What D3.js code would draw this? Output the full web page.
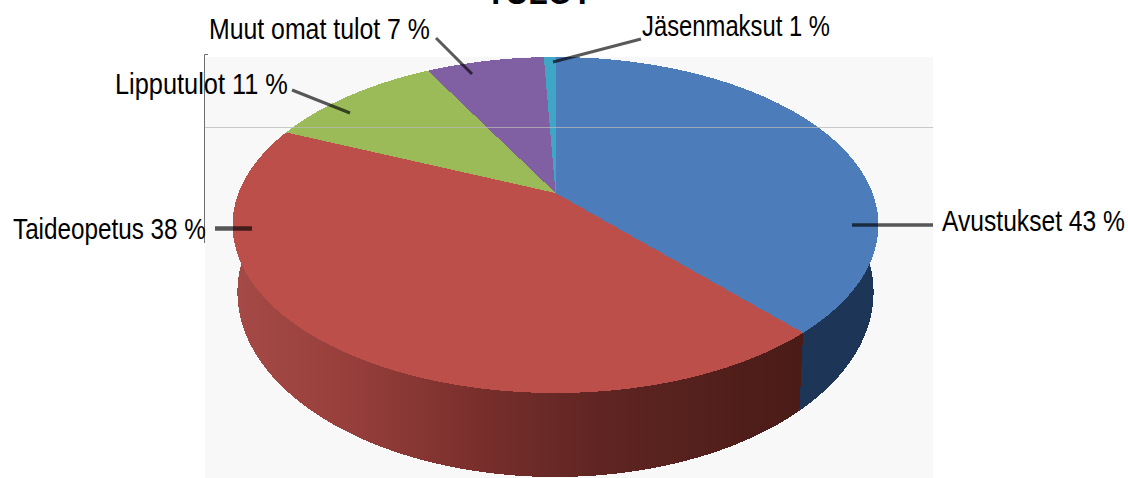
<!DOCTYPE html>
<html>
<head>
<meta charset="utf-8">
<script src="https://cdn.jsdelivr.net/npm/d3@7"></script>
<style>
  html, body { margin: 0; padding: 0; background: #fff; }
  svg { display: block; }
  text { font-family: "Liberation Sans", sans-serif; fill: #000; }
</style>
</head>
<body>
<div id="chart"></div>
<script>
const titleText = 'TULOT';
const labels = ['Avustukset 43 %', 'Taideopetus 38 %', 'Lipputulot 11 %', 'Muut omat tulot 7 %', 'Jäsenmaksut 1 %'];
// slice sizes as drawn in the picture, these differ from the printed labels
const sliceValues = [38.3, 43.3, 10.6, 7.1, 0.7];
const topColors = ['#4c7dba', '#bd4f4a', '#9bbb59', '#8060a2', '#3fa6c6'];

const width = 1128, height = 478;
const plot = { left: 205, right: 933, top: 57, bottom: 478, gridY: 127 };

// label anchor and squeezed width, same order as labels
const labelPos = [[942, 231, 183], [13, 239, 193], [115, 94, 173], [209, 39, 221], [642, 36, 188]];
const leaders = [
  [[852, 225], [933, 225], 3.5],
  [[215, 228.5], [252, 228.5], 4.5],
  [[292, 90], [350, 113], 3],
  [[436, 38], [472, 74], 3],
  [[553, 62], [641, 39], 3]
];

const svg = d3.select('#chart').append('svg')
  .attr('width', width).attr('height', height);

const defs = svg.append('defs');
const redWall = defs.append('linearGradient').attr('id', 'wall-red')
  .attr('gradientUnits', 'userSpaceOnUse')
  .attr('x1', 232).attr('x2', 800).attr('y1', 0).attr('y2', 0);
[[0, '#a54a47'], [0.2, '#983f3c'], [0.45, '#762e2b'], [0.65, '#5f2522'], [1, '#4a1b17']]
  .forEach(s => redWall.append('stop').attr('offset', s[0]).attr('stop-color', s[1]));

const wallFills = ['#1d3658', 'url(#wall-red)', '#6a8339', '#56406f', '#2a7186'];

// Plot background
svg.append('rect')
  .attr('x', plot.left).attr('y', plot.top)
  .attr('width', plot.right - plot.left).attr('height', plot.bottom - plot.top)
  .attr('fill', '#f8f8f8');

// Perspective of the disc: a unit circle mapped to the top face
const cx = 555.5, apexY = 193, persp = 0.1905, scaleX = 317, scaleY = 161.9;
function project(a) {
  const w = 1 + persp * Math.cos(a);
  return [cx + scaleX * Math.sin(a) / w, apexY - scaleY * Math.cos(a) / w];
}
function projectBottom(a) {
  const p = project(a);
  return [cx + (p[0] - cx) * 0.985, 477 - 1.1 * (200 - (p[1] - apexY))];
}

const arcs = d3.pie().sort(null).value(d => d)(sliceValues);
const line = d3.line();
const anglesOf = d => d3.range(0, 121).map(i => d.startAngle + (d.endAngle - d.startAngle) * i / 120);

// Walls
svg.append('g').selectAll('path').data(arcs).enter().append('path')
  .attr('d', d => {
    const angles = anglesOf(d);
    return line(angles.map(project).concat(angles.slice().reverse().map(projectBottom))) + 'Z';
  })
  .attr('fill', (d, i) => wallFills[i])
  .attr('shape-rendering', 'crispEdges');

// Top face
svg.append('g').selectAll('path').data(arcs).enter().append('path')
  .attr('d', d => line([[cx, apexY]].concat(anglesOf(d).map(project))) + 'Z')
  .attr('fill', (d, i) => topColors[i])
  .attr('shape-rendering', 'crispEdges');

// Grid line and axis
svg.append('line')
  .attr('x1', plot.left - 1).attr('x2', plot.right)
  .attr('y1', plot.gridY + 0.5).attr('y2', plot.gridY + 0.5)
  .attr('stroke', '#b8b8b8').attr('stroke-opacity', 0.75);
svg.append('path')
  .attr('d', 'M208,54.5H204.5V243')
  .attr('fill', 'none').attr('stroke', '#707070');

// Leader lines
svg.append('g').selectAll('line').data(leaders).enter().append('line')
  .attr('x1', d => d[0][0]).attr('y1', d => d[0][1])
  .attr('x2', d => d[1][0]).attr('y2', d => d[1][1])
  .attr('stroke', '#000').attr('stroke-opacity', 0.65)
  .attr('stroke-width', d => d[2]);

// Labels, the source face is a narrow one so the glyphs get squeezed
svg.append('g').selectAll('text').data(labels).enter().append('text')
  .attr('font-size', 30)
  .text(d => d)
  .attr('transform', function(d, i) {
    const p = labelPos[i];
    return `translate(${p[0]},${p[1]}) scale(${p[2] / this.getComputedTextLength()},1)`;
  });

// Title, cut off by the top of the picture in the source
svg.append('text')
  .attr('font-size', 33).attr('font-weight', 'bold')
  .text(titleText)
  .attr('transform', function() {
    return `translate(486,3.5) scale(${106 / this.getComputedTextLength()},1)`;
  });
</script>
</body>
</html>
